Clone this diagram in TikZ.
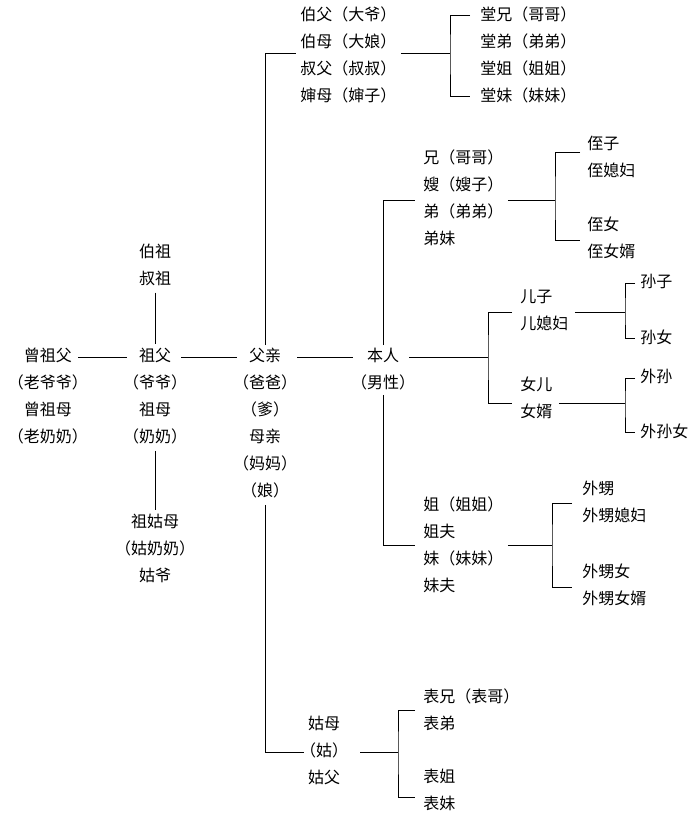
\documentclass[tikz,border=0pt]{standalone}
\usepackage{fontspec}
\setmainfont{Noto Sans CJK SC}
\begin{document}
\begin{tikzpicture}
            [x=1pt, y=-1pt,
             person/.style = {inner sep = 0pt, font=\fontsize{16}{27}\selectfont},
             personl/.style = {person, anchor = north west, align = left},
             personc/.style = {person, anchor = north, align = center},
             line width = 0.8pt]
            \useasboundingbox (0,0) rectangle (700,820);
            % ancestors
            \node[personc] (zengzu) at (48,348) {曾祖父\\（老爷爷）\\曾祖母\\（老奶奶）};
            \node[personc] (zufu) at (155,348) {祖父\\（爷爷）\\祖母\\（奶奶）};
            \node[personc] (bozu) at (155,244) {伯祖\\叔祖};
            \node[personc] (zugu) at (155,514) {祖姑母\\（姑奶奶）\\姑爷};
            \node[personc] (fuqin) at (265,348) {父亲\\（爸爸）\\（爹）\\母亲\\（妈妈）\\（娘）};
            \node[personc] (benren) at (383,348) {本人\\（男性）};
            % father's generation
            \node[personl] (bofu) at (300,6) {伯父（大爷）\\伯母（大娘）\\叔父（叔叔）\\婶母（婶子）};
            \node[personl] (tang) at (480,6) {堂兄（哥哥）\\堂弟（弟弟）\\堂姐（姐姐）\\堂妹（妹妹）};
            \node[personc] (gumu) at (324,716) {姑母\\（姑）\\姑父};
            \node[personl] (biao) at (423,688) {表兄（表哥）\\表弟};
            \node[personl] (biaojie) at (423,769) {表姐\\表妹};
            % own generation
            \node[personl] (xiong) at (423,149) {兄（哥哥）\\嫂（嫂子）\\弟（弟弟）\\弟妹};
            \node[personl] (zhizi) at (587,136) {侄子\\侄媳妇};
            \node[personl] (zhinv) at (587,216) {侄女\\侄女婿};
            \node[personl] (jie) at (423,496) {姐（姐姐）\\姐夫\\妹（妹妹）\\妹夫};
            \node[personl] (waisheng) at (582,481) {外甥\\外甥媳妇};
            \node[personl] (waishengnv) at (582,563) {外甥女\\外甥女婿};
            % children
            \node[personl] (erzi) at (520,289) {儿子\\儿媳妇};
            \node[personl] (nver) at (520,376) {女儿\\女婿};
            \node[personl] (sunzi) at (640,274) {孙子};
            \node[personl] (sunnv) at (640,329) {孙女};
            \node[personl] (waisun) at (640,369) {外孙};
            \node[personl] (waisunnv) at (640,423) {外孙女};
            % bracket points
            \coordinate (btang) at (450,53);
            \coordinate (bbiao) at (398,752);
            \coordinate (bzhi) at (555,200);
            \coordinate (bben) at (488,357);
            \coordinate (bsun) at (625,312);
            \coordinate (bwaisun) at (625,403);
            \coordinate (bsheng) at (552,545);
            % horizontal line of descent
            \draw ([shift={(30,9)}]zengzu.north) -- ([shift={(-28,9)}]zufu.north);
            \draw ([shift={(26,9)}]zufu.north) -- ([shift={(-28,9)}]fuqin.north);
            \draw ([shift={(32,9)}]fuqin.north) -- ([shift={(-30,9)}]benren.north);
            \draw ([shift={(26,9)}]benren.north) -- (bben);
            \draw (bozu.south) ++(0,6) -- ([yshift=4pt]zufu.north);
            \draw ([yshift=-6pt]zufu.south) -- ([yshift=4pt]zugu.north);
            % father's brothers and sisters
            \draw ([yshift=3pt]fuqin.north) |- ([shift={(-4,47)}]bofu.north west);
            \draw ([shift={(4,47)}]bofu.north east) -- (btang);
            \draw ([shift={(-10,9)}]tang.north west) -| (btang) |- ([shift={(-10,90)}]tang.north west);
            \draw ([yshift=-6pt]fuqin.south) |- ([shift={(-20,36)}]gumu.north);
            \draw ([shift={(36,36)}]gumu.north) -- (bbiao);
            \draw ([shift={(-8,22)}]biao.north west) -| (bbiao) |- ([shift={(-8,28)}]biaojie.north west);
            % brothers and sisters
            \draw ([yshift=3pt]benren.north) |- ([shift={(-8,51)}]xiong.north west);
            \draw ([shift={(4,51)}]xiong.north east) -- (bzhi);
            \draw ([shift={(-7,16)}]zhizi.north west) -| (bzhi) |- ([shift={(-7,24)}]zhinv.north west);
            \draw ([yshift=-4pt]benren.south) |- ([shift={(-8,49)}]jie.north west);
            \draw ([shift={(4,49)}]jie.north east) -- (bsheng);
            \draw ([shift={(-10,22)}]waisheng.north west) -| (bsheng) |- ([shift={(-10,24)}]waishengnv.north west);
            % children and grandchildren
            \draw ([shift={(-8,23)}]erzi.north west) -| (bben) |- ([shift={(-8,27)}]nver.north west);
            \draw ([shift={(6,23)}]erzi.north east) -- (bsun);
            \draw ([shift={(-5,9)}]sunzi.north west) -| (bsun) |- ([shift={(-5,9)}]sunnv.north west);
            \draw ([shift={(6,27)}]nver.north east) -- (bwaisun);
            \draw ([shift={(-5,9)}]waisun.north west) -| (bwaisun) |- ([shift={(-5,9)}]waisunnv.north west);
        \end{tikzpicture}
\end{document}
